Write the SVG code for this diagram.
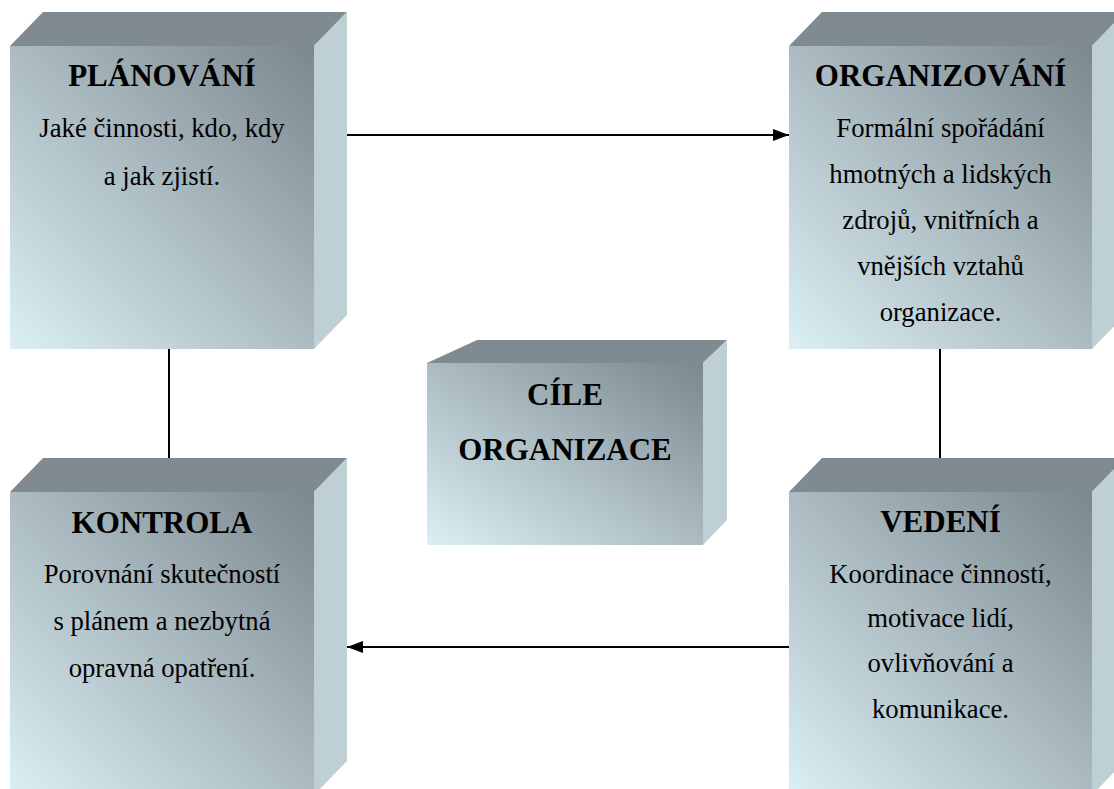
<svg xmlns="http://www.w3.org/2000/svg" width="1114" height="789" viewBox="0 0 1114 789">
<defs>
<linearGradient id="front" x1="1" y1="0" x2="0" y2="1">
<stop offset="0" stop-color="#7b888e"/>
<stop offset="1" stop-color="#dbeff5"/>
</linearGradient>
<marker id="arrow" viewBox="0 0 16 12" refX="16" refY="6" markerWidth="16" markerHeight="12" markerUnits="userSpaceOnUse" orient="auto">
<path d="M0,0 L16,6 L0,12 Z" fill="#000"/>
</marker>
<style>
.top{fill:#7f8b91}
.side{fill:#bfd0d5}
.front{fill:url(#front)}
text{font-family:'Liberation Serif','Times New Roman',serif;text-anchor:middle;fill:#000}
.title{font-weight:bold;font-size:31px}
.body{font-size:26.7px}
.conn{stroke:#000;stroke-width:2;fill:none}
</style>
</defs>
<rect width="1114" height="789" fill="#fff"/>
<g id="connectors">
<line class="conn" x1="347" y1="135" x2="789" y2="135" marker-end="url(#arrow)"/>
<line class="conn" x1="789" y1="647" x2="347" y2="647" marker-end="url(#arrow)"/>
<line class="conn" x1="169" y1="349" x2="169" y2="458"/>
<line class="conn" x1="940" y1="349" x2="940" y2="458"/>
</g>
<g id="planovani">
<polygon class="top" points="10,46 43,12 347,12 314,46"/>
<polygon class="side" points="314,46 347,12 347,315 314,349"/>
<rect class="front" x="10" y="46" width="304" height="303"/>
<text class="title" x="162" y="86">PLÁNOVÁNÍ</text>
<text class="body" x="162" y="137">Jaké činnosti, kdo, kdy</text>
<text class="body" x="162" y="185">a jak zjistí.</text>
</g>
<g id="organizovani">
<polygon class="top" points="789,46 822,12 1125,12 1092,46"/>
<polygon class="side" points="1092,46 1125,12 1125,315 1092,349"/>
<rect class="front" x="789" y="46" width="303" height="303"/>
<text class="title" x="940.5" y="86">ORGANIZOVÁNÍ</text>
<text class="body" x="940.5" y="137">Formální spořádání</text>
<text class="body" x="940.5" y="183">hmotných a lidských</text>
<text class="body" x="940.5" y="229">zdrojů, vnitřních a</text>
<text class="body" x="940.5" y="275">vnějších vztahů</text>
<text class="body" x="940.5" y="321">organizace.</text>
</g>
<g id="cile">
<polygon class="top" points="427,363 477,340 727,340 703,363"/>
<polygon class="side" points="703,363 727,340 727,520 703,545"/>
<rect class="front" x="427" y="363" width="276" height="182"/>
<text class="title" x="565" y="405">CÍLE</text>
<text class="title" x="565" y="460">ORGANIZACE</text>
</g>
<g id="kontrola">
<polygon class="top" points="10,492 43,458 347,458 314,492"/>
<polygon class="side" points="314,492 347,458 347,761 314,795"/>
<rect class="front" x="10" y="492" width="304" height="303"/>
<text class="title" x="162" y="533">KONTROLA</text>
<text class="body" x="162" y="583">Porovnání skutečností</text>
<text class="body" x="162" y="630">s plánem a nezbytná</text>
<text class="body" x="162" y="677">opravná opatření.</text>
</g>
<g id="vedeni">
<polygon class="top" points="789,492 822,458 1125,458 1092,492"/>
<polygon class="side" points="1092,492 1125,458 1125,761 1092,795"/>
<rect class="front" x="789" y="492" width="303" height="303"/>
<text class="title" x="940.5" y="532">VEDENÍ</text>
<text class="body" x="940.5" y="583">Koordinace činností,</text>
<text class="body" x="940.5" y="627">motivace lidí,</text>
<text class="body" x="940.5" y="672">ovlivňování a</text>
<text class="body" x="940.5" y="718">komunikace.</text>
</g>
</svg>
